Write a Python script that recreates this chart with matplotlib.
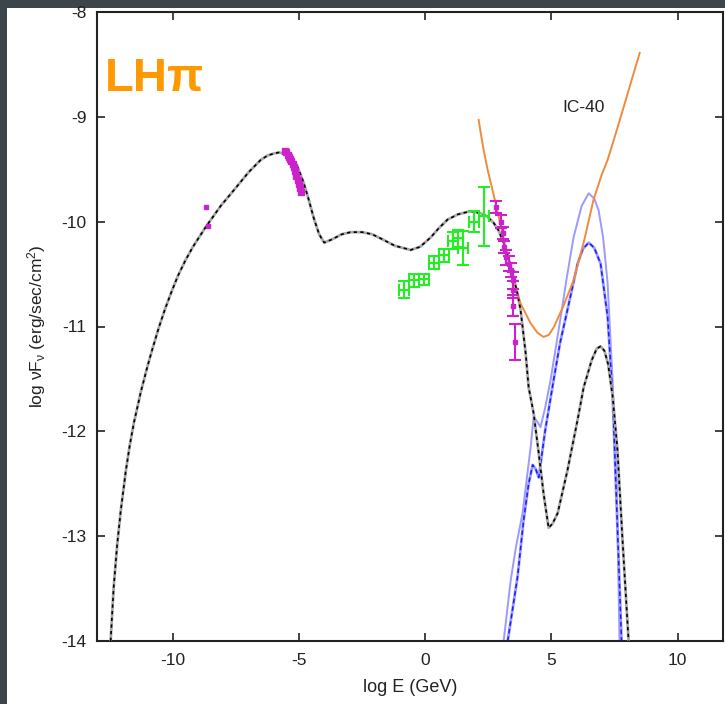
import matplotlib
matplotlib.use("Agg")
import matplotlib.pyplot as plt
from matplotlib.patches import Rectangle

plt.rcParams['font.family'] = ['Liberation Sans', 'DejaVu Sans']
plt.rcParams['mathtext.fontset'] = 'custom'
plt.rcParams['mathtext.rm'] = 'Liberation Sans'
plt.rcParams['mathtext.it'] = 'Liberation Sans'
plt.rcParams['axes.unicode_minus'] = False

# SED model (black)
model_x = [-12.46, -12.34, -12.2, -12.06, -11.86, -11.7, -11.54, -11.26, -11.0, -10.8,
           -10.55, -10.3, -10.05, -9.80, -9.5, -9.2, -8.69, -8.1, -7.58, -7.0,
           -6.51, -6.25, -6.0, -5.8, -5.60, -5.33, -5.05, -4.81, -4.60, -4.42,
           -4.20, -4.0, -3.7, -3.3, -2.95, -2.5, -2.1, -1.76, -1.2, -0.57,
           -0.2, 0.22, 0.55, 0.89, 1.3, 1.80, 2.20, 2.45, 2.71, 2.9,
           3.11, 3.30, 3.50, 3.65, 3.78, 3.98, 4.10, 4.30, 4.50, 4.69,
           4.89, 5.05, 5.25, 5.64, 6.04, 6.28, 6.6, 6.8, 6.95, 7.1,
           7.25, 7.43, 7.62, 7.82, 8.06]
model_y = [-14.0, -13.49, -13.08, -12.76, -12.38, -12.13, -11.92, -11.62, -11.38, -11.21,
           -11.01, -10.83, -10.67, -10.52, -10.37, -10.24, -10.05, -9.85, -9.70, -9.53,
           -9.41, -9.37, -9.35, -9.34, -9.35, -9.38, -9.48, -9.63, -9.80, -9.96,
           -10.12, -10.20, -10.17, -10.12, -10.10, -10.10, -10.12, -10.16, -10.23, -10.27,
           -10.24, -10.15, -10.06, -9.98, -9.93, -9.90, -9.92, -9.95, -10.01, -10.08,
           -10.20, -10.35, -10.53, -10.68, -10.84, -11.25, -11.58, -11.83, -12.21, -12.59,
           -12.92, -12.88, -12.78, -12.37, -11.89, -11.58, -11.32, -11.21, -11.19, -11.23,
           -11.36, -11.67, -12.18, -13.04, -14.0]

# IceCube IC-40 sensitivity (orange)
ic40_x = [2.12, 2.2, 2.32, 2.48, 2.79, 3.1, 3.39, 3.78, 4.18, 4.45, 4.69, 4.9, 5.09, 5.45,
          5.88, 6.3, 6.67, 7.0, 7.23, 7.55, 7.86, 8.50]
ic40_y = [-9.03, -9.15, -9.32, -9.51, -9.82, -10.15, -10.46, -10.78, -10.97, -11.06, -11.10,
          -11.08, -11.01, -10.82, -10.56, -10.18, -9.79, -9.55, -9.41, -9.16, -8.91, -8.39]

# neutrino fluxes (blue)
nu_a_x = [3.11, 3.39, 3.6, 3.86, 4.18, 4.30, 4.45, 4.57, 4.75, 4.97, 5.37, 5.6, 5.88, 6.2,
          6.48, 6.7, 6.87, 7.05, 7.23, 7.43, 7.59, 7.70]
nu_a_y = [-14.0, -13.42, -13.1, -12.78, -12.15, -11.86, -11.91, -11.96, -11.78, -11.51,
          -10.91, -10.55, -10.15, -9.85, -9.73, -9.78, -9.89, -10.15, -10.59, -11.54,
          -12.47, -14.0]
nu_b_x = [3.27, 3.66, 3.90, 4.1, 4.26, 4.38, 4.50, 4.75, 5.09, 5.35, 5.64, 6.04, 6.25,
          6.48, 6.7, 6.95, 7.23, 7.43, 7.58, 7.78]
nu_b_y = [-14.0, -13.39, -12.85, -12.5, -12.32, -12.36, -12.44, -12.0, -11.51, -11.15,
          -10.84, -10.40, -10.26, -10.20, -10.25, -10.40, -10.91, -11.67, -12.66, -14.0]

# optical / X-ray points (magenta)
opt_x = [-8.69, -8.61]
opt_y = [-9.86, -10.04]
xray_x = [-5.55, -5.5, -5.45, -5.4, -5.35, -5.3, -5.25, -5.2, -5.15, -5.1, -5.05, -5.0,
          -4.95, -4.9]
xray_y = [-9.33, -9.34, -9.36, -9.38, -9.40, -9.42, -9.45, -9.48, -9.52, -9.56, -9.60,
          -9.64, -9.68, -9.72]

# TeV points (magenta, with errors)
tev_x = [2.79, 2.99, 3.07, 3.11, 3.19, 3.31, 3.39, 3.47, 3.50, 3.50, 3.54]
tev_y = [-9.86, -10.00, -10.11, -10.24, -10.34, -10.40, -10.46, -10.56, -10.65, -10.80, -11.15]
tev_err = [0.06, 0.06, 0.06, 0.06, 0.07, 0.07, 0.07, 0.08, 0.08, 0.10, 0.17]

# Fermi-LAT points (green)
lat_x = [-0.85, -0.45, -0.06, 0.34, 0.73, 1.09, 1.29, 1.49, 1.92, 2.32]
lat_y = [-10.65, -10.56, -10.55, -10.39, -10.32, -10.18, -10.16, -10.25, -10.00, -9.95]
lat_xerr = [0.2, 0.2, 0.2, 0.2, 0.2, 0.2, 0.2, 0.2, 0.2, 0.2]
lat_yerr = [0.08, 0.06, 0.05, 0.06, 0.06, 0.08, 0.08, 0.16, 0.10, 0.28]

fig = plt.figure(figsize=(7.25, 7.04), dpi=100, facecolor='#3c454a')
fig.patches.append(Rectangle((7 / 725, 0), 1, 1 - 8 / 704, transform=fig.transFigure,
                             facecolor='white', edgecolor='none', zorder=-5))
ax = fig.add_axes([97 / 725, 1 - 641 / 704, 626 / 725, 629 / 704])
ax.set_facecolor('white')

ax.plot(model_x, model_y, color='#a8a8a8', lw=2.0, zorder=3)
ax.plot(model_x, model_y, color='black', lw=1.2, dashes=(2, 2), zorder=4)

ax.plot(ic40_x, ic40_y, color='#f08a3c', lw=1.4, zorder=3)

ax.plot(nu_a_x, nu_a_y, color='#9a9aff', lw=1.4, zorder=2)
ax.plot(nu_b_x, nu_b_y, color='#9a9aff', lw=2.0, zorder=2)
ax.plot(nu_b_x, nu_b_y, color='#1a1aff', lw=1.1, dashes=(3, 2), zorder=2)

ax.errorbar(lat_x, lat_y, xerr=lat_xerr, yerr=lat_yerr, fmt='none', ecolor='#22ee22',
            elinewidth=1.5, capsize=4, capthick=1.5, zorder=5)

ax.plot(opt_x, opt_y, 's', color='#cc22cc', ms=3.5, zorder=6)
ax.plot(xray_x, xray_y, 's', color='#cc22cc', ms=5, zorder=6)
ax.errorbar(tev_x, tev_y, yerr=tev_err, fmt='s', color='#cc22cc', ms=3, ecolor='#cc22cc',
            elinewidth=1.5, capsize=4, capthick=1.5, zorder=6)

ax.set_xlim(-13, 11.8)
ax.set_ylim(-14, -8)
ax.set_xticks([-10, -5, 0, 5, 10])
ax.set_yticks([-14, -13, -12, -11, -10, -9, -8])
ax.tick_params(direction='in', length=6, width=1.2, top=True, right=True,
               labelsize=12.5, colors='#222222')
ax.tick_params(axis='y', pad=7.5)
ax.tick_params(axis='x', pad=8.5)
for s in ax.spines.values():
    s.set_linewidth(1.5)
    s.set_color('#222222')

ax.set_xlabel('log E (GeV)', fontsize=13, color='#222222', labelpad=8)
ax.set_ylabel(r'log νF$_\mathregular{ν}$ (erg/sec/cm$^\mathregular{2}$)', fontsize=12.5,
              color='#222222', labelpad=10)

ax.text(-12.68, -8.64, 'LHπ', fontsize=34, fontweight='bold', color='#ff9900',
        va='center', ha='left')
ax.text(5.45, -8.91, 'IC-40', fontsize=12.5, color='#222222', va='center', ha='left')

fig.savefig('out.png', dpi=100, facecolor=fig.get_facecolor())
